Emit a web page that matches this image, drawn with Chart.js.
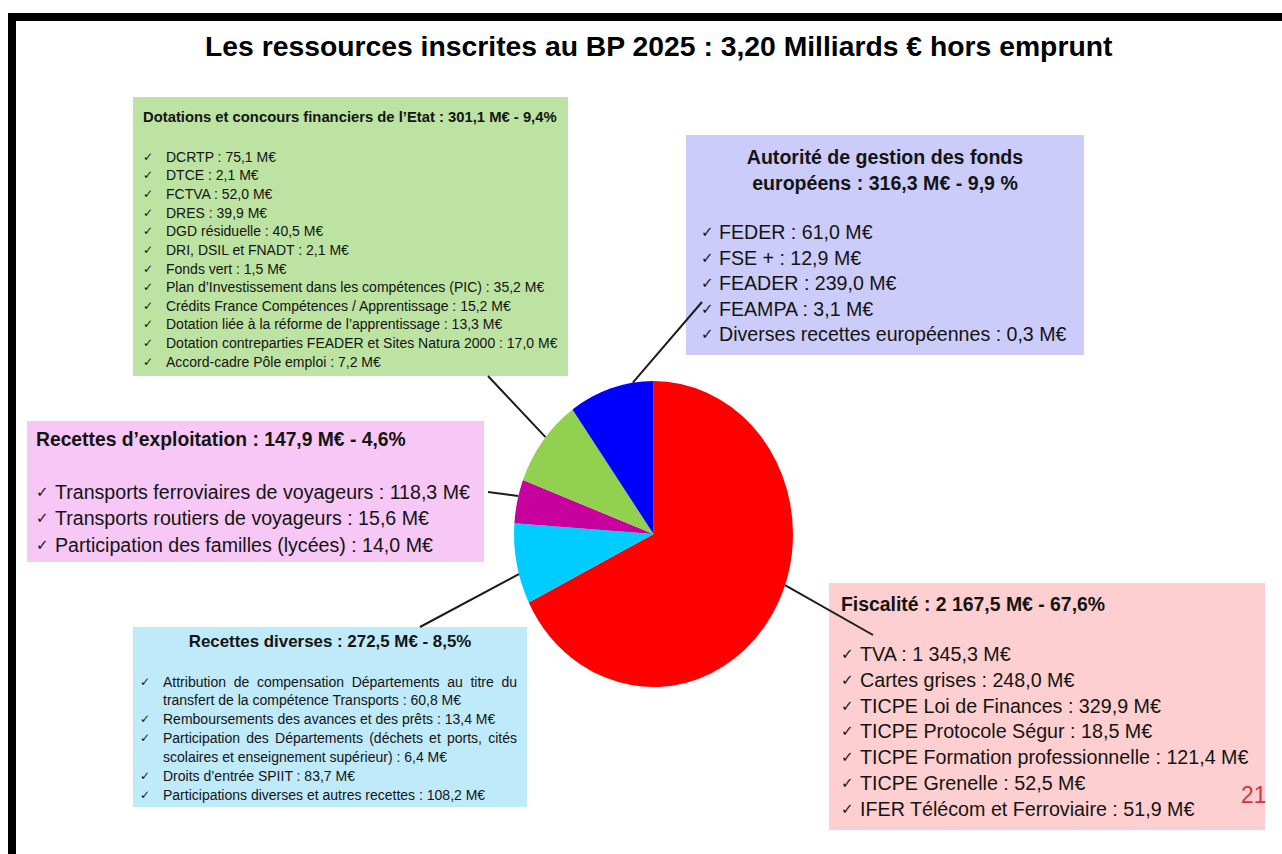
<!DOCTYPE html>
<html lang="fr">
<head>
<meta charset="utf-8">
<title>Les ressources inscrites au BP 2025</title>
<script src="https://cdn.jsdelivr.net/npm/chart.js@4.4.1/dist/chart.umd.min.js"></script>
<style>
html, body { margin: 0; padding: 0; background: #fff; }
body { width: 1282px; height: 854px; position: relative; overflow: hidden; font-family: "Liberation Sans", Arial, sans-serif; color: #141414; }
#frameTop { position: absolute; left: 8px; top: 13px; width: 1274px; height: 8px; background: #000; }
#frameLeft { position: absolute; left: 8px; top: 13px; width: 8px; height: 841px; background: #000; }
#title { position: absolute; left: 205px; top: 33px; font-size: 28px; line-height: 28px; font-weight: bold; white-space: nowrap; transform-origin: 0 0; color: #000; }
.box { position: absolute; box-sizing: border-box; }
.box .hd { font-weight: bold; white-space: nowrap; }
.box .it { position: relative; white-space: nowrap; }
.box .ck { position: absolute; left: 0; top: 0; font-family: "DejaVu Sans", sans-serif; }
.box .just { white-space: normal; text-align: justify; text-align-last: justify; }
#pageNum { position: absolute; left: 1241px; top: 782px; font-size: 23px; line-height: 26px; color: #d2373c; }
#chart { position: absolute; left: 0; top: 0; z-index: 2; pointer-events: none; }
</style>
</head>
<body>
<div id="frameTop"></div>
<div id="frameLeft"></div>
<div id="title">Les ressources inscrites au BP 2025 : 3,20 Milliards € hors emprunt</div>
<div id="boxes"></div>
<div id="pageNum">21</div>
<canvas id="chart" width="1282" height="854"></canvas>

<script>
// slices, clockwise from 12 o'clock
const categories = ['Fiscalité', 'Recettes diverses', "Recettes d'exploitation", "Dotations et concours financiers de l'Etat", 'Autorité de gestion des fonds européens'];
const amounts = [2167.5, 272.5, 147.9, 301.1, 316.3];
const sliceColors = ['#ff0000', '#00ccff', '#c8009e', '#92d050', '#0000ff'];

// box headers
const fiscaliteTitle = ['Fiscalité : 2 167,5 M€ - 67,6%'];
const diversesTitle = ['Recettes diverses : 272,5 M€ - 8,5%'];
const exploitationTitle = ['Recettes d’exploitation : 147,9 M€ - 4,6%'];
const dotationsTitle = ['Dotations et concours financiers de l’Etat : 301,1 M€ - 9,4%'];
const fondsTitle = ['Autorité de gestion des fonds', 'européens : 316,3 M€ - 9,9 %'];

// box details ("\n" = line break inside an item)
const fiscaliteItems = [
  'TVA : 1 345,3 M€',
  'Cartes grises : 248,0 M€',
  'TICPE Loi de Finances : 329,9 M€',
  'TICPE Protocole Ségur : 18,5 M€',
  'TICPE Formation professionnelle : 121,4 M€',
  'TICPE Grenelle : 52,5 M€',
  'IFER Télécom et Ferroviaire : 51,9 M€'
];
const diversesItems = [
  'Attribution de compensation Départements au titre du\ntransfert de la compétence Transports : 60,8 M€',
  'Remboursements des avances et des prêts : 13,4 M€',
  'Participation des Départements (déchets et ports, cités\nscolaires et enseignement supérieur) : 6,4 M€',
  'Droits d’entrée SPIIT : 83,7 M€',
  'Participations diverses et autres recettes : 108,2 M€'
];
const exploitationItems = [
  'Transports ferroviaires de voyageurs : 118,3 M€',
  'Transports routiers de voyageurs : 15,6 M€',
  'Participation des familles (lycées) : 14,0 M€'
];
const dotationsItems = [
  'DCRTP : 75,1 M€',
  'DTCE : 2,1 M€',
  'FCTVA : 52,0 M€',
  'DRES : 39,9 M€',
  'DGD résiduelle : 40,5 M€',
  'DRI, DSIL et FNADT : 2,1 M€',
  'Fonds vert : 1,5 M€',
  'Plan d’Investissement dans les compétences (PIC) : 35,2 M€',
  'Crédits France Compétences / Apprentissage : 15,2 M€',
  'Dotation liée à la réforme de l’apprentissage : 13,3 M€',
  'Dotation contreparties FEADER et Sites Natura 2000 : 17,0 M€',
  'Accord-cadre Pôle emploi : 7,2 M€'
];
const fondsItems = [
  'FEDER : 61,0 M€',
  'FSE + : 12,9 M€',
  'FEADER : 239,0 M€',
  'FEAMPA : 3,1 M€',
  'Diverses recettes européennes : 0,3 M€'
];

// layout of the text boxes
const boxLayout = [
  { title: dotationsTitle, items: dotationsItems, left: 133, top: 97, width: 435, height: 279, bg: '#bde3a2',
    padTop: 10, padLeft: 10, hdSize: 14.8, hdLH: 20, hdAlign: 'left', gap: 20.7, itSize: 14, itLH: 18.64, ckSize: 12, textIndent: 23 },
  { title: fondsTitle, items: fondsItems, left: 686, top: 135, width: 398, height: 220, bg: '#ccccfa',
    padTop: 9, padLeft: 15, hdSize: 19.6, hdLH: 26, hdAlign: 'center', gap: 24, itSize: 19.6, itLH: 25.5, ckSize: 15, textIndent: 18 },
  { title: exploitationTitle, items: exploitationItems, left: 27, top: 421, width: 457, height: 141, bg: '#f7c8f5',
    padTop: 7, padLeft: 9, hdSize: 19.3, hdLH: 24, hdAlign: 'left', gap: 26.7, itSize: 19.6, itLH: 26.5, ckSize: 15, textIndent: 19 },
  { title: diversesTitle, items: diversesItems, left: 133, top: 627, width: 394, height: 180, bg: '#bfeafa',
    padTop: 4, padLeft: 7, hdSize: 16.9, hdLH: 22, hdAlign: 'center', gap: 19.6, itSize: 14, itLH: 18.83, ckSize: 12, textIndent: 23, innerWidth: 377 },
  { title: fiscaliteTitle, items: fiscaliteItems, left: 829, top: 583, width: 436, height: 247, bg: '#fdcfd0',
    padTop: 9, padLeft: 12, hdSize: 19.4, hdLH: 24, hdAlign: 'left', gap: 26, itSize: 19.7, itLH: 25.8, ckSize: 15, textIndent: 19 }
];

// leader lines: where on the slice they leave, where they end
const leaderFrac = [0.45, 0.37, 0.62, 0.55, 0.76];
const leaderEnd = [[873, 635], [420, 627], [488, 492], [488, 376], [702, 302]];
const ellipseY = 153 / 139.5;

function buildBoxes() {
  const holder = document.getElementById('boxes');
  boxLayout.forEach(b => {
    const box = document.createElement('div');
    box.className = 'box';
    Object.assign(box.style, {
      left: b.left + 'px', top: b.top + 'px', width: b.width + 'px', height: b.height + 'px',
      background: b.bg, paddingTop: b.padTop + 'px', paddingLeft: b.padLeft + 'px'
    });
    b.title.forEach(t => {
      const hd = document.createElement('div');
      hd.className = 'hd';
      hd.textContent = t;
      Object.assign(hd.style, { fontSize: b.hdSize + 'px', lineHeight: b.hdLH + 'px', textAlign: b.hdAlign });
      if (b.hdAlign === 'center') {
        hd.style.marginLeft = (-b.padLeft) + 'px';
        hd.style.width = b.width + 'px';
      }
      box.appendChild(hd);
    });
    const list = document.createElement('div');
    list.style.marginTop = b.gap + 'px';
    b.items.forEach(txt => {
      const lines = txt.split('\n');
      lines.forEach((ln, k) => {
        const it = document.createElement('div');
        it.className = 'it';
        Object.assign(it.style, { fontSize: b.itSize + 'px', lineHeight: b.itLH + 'px', paddingLeft: b.textIndent + 'px' });
        if (k === 0) {
          const ck = document.createElement('span');
          ck.className = 'ck';
          ck.textContent = '✓';
          ck.style.fontSize = b.ckSize + 'px';
          it.appendChild(ck);
        }
        const span = document.createElement('div');
        span.textContent = ln;
        if (k < lines.length - 1) {
          span.className = 'just';
          span.style.width = (b.innerWidth - b.textIndent) + 'px';
        }
        it.appendChild(span);
        list.appendChild(it);
      });
    });
    box.appendChild(list);
    holder.appendChild(box);
  });
}

function fitTitle() {
  const t = document.getElementById('title');
  t.style.transform = 'scaleX(' + (907 / t.scrollWidth) + ')';
}

const ellipsePlugin = {
  id: 'ellipse',
  beforeDatasetsDraw(chart) {
    const a = chart.getDatasetMeta(0).data[0];
    const ctx = chart.ctx;
    ctx.save();
    ctx.translate(a.x, a.y);
    ctx.scale(1, ellipseY);
    ctx.translate(-a.x, -a.y);
  },
  afterDatasetsDraw(chart) {
    const ctx = chart.ctx;
    ctx.restore();
    ctx.save();
    ctx.strokeStyle = '#1c1c1c';
    ctx.lineWidth = 2;
    chart.getDatasetMeta(0).data.forEach((arc, i) => {
      const ang = arc.startAngle + leaderFrac[i] * (arc.endAngle - arc.startAngle);
      const sx = arc.x + Math.cos(ang) * arc.outerRadius;
      const sy = arc.y + Math.sin(ang) * arc.outerRadius * ellipseY;
      ctx.beginPath();
      ctx.moveTo(sx, sy);
      ctx.lineTo(leaderEnd[i][0], leaderEnd[i][1]);
      ctx.stroke();
    });
    ctx.restore();
  }
};

function drawPie() {
  new Chart(document.getElementById('chart'), {
    type: 'pie',
    data: {
      labels: categories,
      datasets: [{ data: amounts, backgroundColor: sliceColors, borderWidth: 0 }]
    },
    options: {
      responsive: false,
      animation: false,
      devicePixelRatio: 1,
      layout: { padding: { left: 514, right: 489, top: 394.5, bottom: 180.5 } },
      plugins: { legend: { display: false }, tooltip: { enabled: false } }
    },
    plugins: [ellipsePlugin]
  });
}

buildBoxes();
fitTitle();
drawPie();
</script>
</body>
</html>
